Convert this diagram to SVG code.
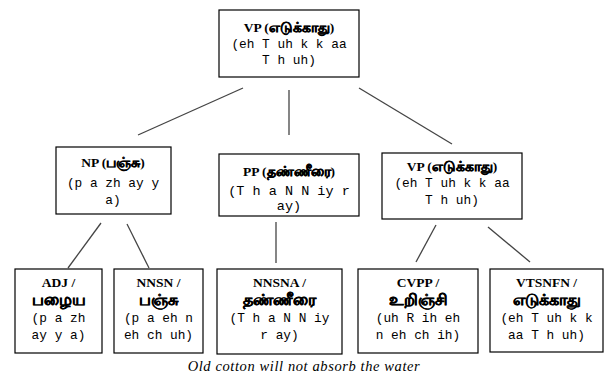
<svg xmlns="http://www.w3.org/2000/svg" width="605" height="380" viewBox="0 0 605 380">
<style>
.box{fill:#fff;stroke:#000;stroke-width:1.2}
.t{font-family:"Liberation Serif","Noto Sans",serif;font-weight:bold;font-size:13.5px;text-anchor:middle;fill:#000}
.tm{font-size:14px;stroke:#000;stroke-width:0.4}
.ta{font-family:"Liberation Serif","Noto Sans",serif;font-weight:bold;font-size:16px;text-anchor:middle;fill:#000;stroke:#000;stroke-width:0.35}
.m{font-family:"Liberation Mono",monospace;font-size:12.8px;text-anchor:middle;fill:#000}
.c{fill:none;stroke:#444;stroke-width:1.3}
.cap{font-family:"Liberation Serif",serif;font-style:italic;font-size:14.5px;letter-spacing:0.6px;text-anchor:middle;fill:#000}
</style>
<rect width="605" height="380" fill="#fff"/>
<g id="connectors">
<line class="c" x1="243" y1="88" x2="138" y2="135"/>
<line class="c" x1="289" y1="90" x2="289" y2="135"/>
<line class="c" x1="359" y1="88" x2="452" y2="144"/>
<line class="c" x1="101" y1="223" x2="68" y2="268"/>
<line class="c" x1="127" y1="224" x2="149" y2="268"/>
<line class="c" x1="276" y1="222" x2="276" y2="263"/>
<line class="c" x1="436" y1="225" x2="416" y2="262"/>
<line class="c" x1="488" y1="227" x2="530" y2="262"/>
</g>
<g id="vp-top">
<rect class="box" x="219" y="10" width="140" height="67"/>
<text class="t" x="289" y="32">VP (<tspan class="tm">எடுக்காது</tspan>)</text>
<text class="m" x="289" y="48">(eh T uh k k aa</text>
<text class="m" x="289" y="64">T h uh)</text>
</g>
<g id="np">
<rect class="box" x="56" y="147" width="115" height="67"/>
<text class="t" x="113" y="167">NP (<tspan class="tm">பஞ்சு</tspan>)</text>
<text class="m" x="113" y="187">(p a zh ay y</text>
<text class="m" x="113" y="204">a)</text>
</g>
<g id="pp">
<rect class="box" x="219" y="154" width="140" height="62"/>
<text class="t" x="289" y="176">PP (<tspan class="tm">தண்ணீரை</tspan>)</text>
<text class="m" x="289" y="195" style="font-size:13.5px">(T h a N N iy r</text>
<text class="m" x="289" y="210" style="font-size:13.5px">ay)</text>
</g>
<g id="vp">
<rect class="box" x="382" y="153" width="140" height="66"/>
<text class="t" x="452" y="171">VP (<tspan class="tm">எடுக்காது</tspan>)</text>
<text class="m" x="452" y="187">(eh T uh k k aa</text>
<text class="m" x="452" y="204">T h uh)</text>
</g>
<g id="adj">
<rect class="box" x="15" y="269" width="87" height="84"/>
<text class="t" x="58.5" y="287">ADJ /</text>
<text class="ta" x="58.5" y="305">பழைய</text>
<text class="m" x="58.5" y="322">(p a zh</text>
<text class="m" x="58.5" y="339">ay y a)</text>
</g>
<g id="nnsn">
<rect class="box" x="114" y="269" width="89" height="84"/>
<text class="t" x="158.5" y="287">NNSN /</text>
<text class="ta" x="158.5" y="305">பஞ்சு</text>
<text class="m" x="158.5" y="322">(p a eh n</text>
<text class="m" x="158.5" y="339">eh ch uh)</text>
</g>
<g id="nnsna">
<rect class="box" x="217" y="269" width="125" height="85"/>
<text class="t" x="279.5" y="287">NNSNA /</text>
<text class="ta" x="279.5" y="305">தண்ணீரை</text>
<text class="m" x="279.5" y="322">(T h a N N iy</text>
<text class="m" x="279.5" y="339">r ay)</text>
</g>
<g id="cvpp">
<rect class="box" x="358" y="269" width="120" height="84"/>
<text class="t" x="418" y="287">CVPP /</text>
<text class="ta" x="418" y="305">உறிஞ்சி</text>
<text class="m" x="418" y="322">(uh R ih eh</text>
<text class="m" x="418" y="339">n eh ch ih)</text>
</g>
<g id="vtsnfn">
<rect class="box" x="490" y="269" width="113" height="83"/>
<text class="t" x="546.5" y="287">VTSNFN /</text>
<text class="ta" x="546.5" y="305">எடுக்காது</text>
<text class="m" x="546.5" y="322">(eh T uh k k</text>
<text class="m" x="546.5" y="339">aa T h uh)</text>
</g>
<text class="cap" x="304" y="371">Old cotton will not absorb the water</text>
</svg>
